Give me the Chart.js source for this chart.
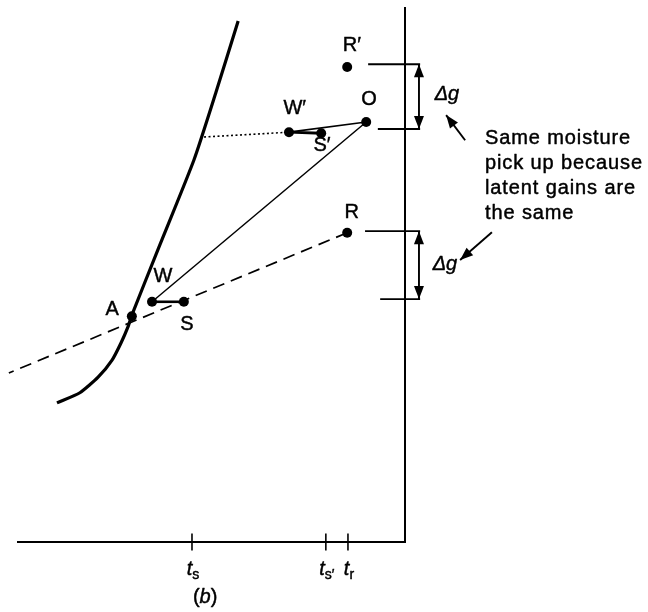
<!DOCTYPE html>
<html><head><meta charset="utf-8">
<script src="https://cdn.jsdelivr.net/npm/chart.js@4.4.1/dist/chart.umd.min.js"></script>
<style>html,body{margin:0;padding:0;background:#fff}canvas{display:block}</style>
</head><body>
<canvas id="c" width="648" height="612"></canvas>
<script>
// ---- data (diagram units: x 0..100 along temperature axis, y 0..100 moisture) ----
const axisX = [0, 100, 100];
const axisY = [0, 0, 100];
const tickValues = [45.1, 79.6, 85.3];
const tickMain = ['t', 't', 't'];
const tickSub = ['s', 's\u2032', 'r'];
const tickHalf = 1.6;
const tickLabelY = -6.2;
const satX = [10.3, 16.2, 20.9, 24.5, 26.8, 28.6, 29.6, 36.3, 45.6, 51.3, 57.0];
const satY = [26.0, 27.9, 30.8, 34.0, 37.2, 40.2, 42.4, 54.6, 71.4, 84.1, 97.4];
const pointNames = ['R\u2032', 'O', 'W\u2032', 'S\u2032', 'R', 'W', 'S', 'A'];
const pointX = [85.1, 90.0, 70.1, 78.4, 85.1, 34.8, 43.0, 29.6];
const pointY = [88.8, 78.5, 76.6, 76.4, 57.8, 44.9, 44.9, 42.2];
const labelX = [86.3, 90.7, 71.6, 78.6, 86.3, 37.6, 43.8, 24.5];
const labelY = [92.9, 82.8, 81.1, 74.2, 61.5, 49.7, 40.6, 43.4];
const dashedX = [85.1, -2.1];
const dashedY = [57.8, 31.6];
const dottedX = [48.2, 70.1];
const dottedY = [75.7, 76.6];
const levelX0 = [90.5, 93.0, 89.7, 93.6];
const levelX1 = [103.9, 103.9, 103.9, 103.9];
const levelY = [89.3, 77.2, 58.1, 45.4];
const dgArrowX = [103.6, 103.6];
const dgArrowY0 = [89.3, 58.1];
const dgArrowY1 = [77.2, 45.4];
const pointerTailX = [115.5, 122.4];
const pointerTailY = [75.1, 57.9];
const pointerTipX = [110.6, 114.2];
const pointerTipY = [79.8, 52.7];
const dgLabelX = [110.8, 110.3];
const dgLabelY = [83.6, 51.8];
const noteLines = ['Same moisture', 'pick up because', 'latent gains are', 'the same'];
const noteX = 120.6;
const noteY = [74.4, 69.7, 65.0, 60.4];
const captionX = 48.5;
const captionY = -10.3;

// ---- build datasets ----
const K = '#000';
function line(xs, ys, extra) {
  return Object.assign({
    data: xs.map((x, i) => ({x, y: ys[i]})),
    showLine: true, pointRadius: 0, pointHoverRadius: 0,
    borderColor: K, borderWidth: 1.5, fill: false, clip: false, tension: 0
  }, extra || {});
}
const datasets = [];
datasets.push(line(axisX, axisY, {borderWidth: 2}));
tickValues.forEach(v => datasets.push(line([v, v], [-tickHalf, tickHalf], {borderWidth: 1.6})));
datasets.push(line(satX, satY, {borderWidth: 3.2, tension: 0.2}));
datasets.push(line(dashedX, dashedY, {borderDash: [12, 7], borderWidth: 1.7}));
datasets.push(line(dottedX, dottedY, {borderDash: [2, 2.5], borderWidth: 1.6}));
// process lines
datasets.push(line([pointX[5], pointX[1]], [pointY[5], pointY[1]], {borderWidth: 1.5}));
datasets.push(line([pointX[5], pointX[6]], [pointY[5], pointY[6]], {borderWidth: 2.6}));
datasets.push(line([pointX[2], pointX[1]], [pointY[2], pointY[1]], {borderWidth: 1.7}));
datasets.push(line([pointX[2], pointX[3]], [pointY[2], pointY[3]], {borderWidth: 2.8}));
// level lines
levelY.forEach((y, i) => datasets.push(line([levelX0[i], levelX1[i]], [y, y], {borderWidth: 1.9})));
// double arrows
dgArrowX.forEach((x, i) => datasets.push(line([x, x], [dgArrowY0[i], dgArrowY1[i]], {borderWidth: 1.9, arrowStart: true, arrowEnd: true})));
// pointer arrows
pointerTailX.forEach((x, i) => datasets.push(line([x, pointerTipX[i]], [pointerTailY[i], pointerTipY[i]], {borderWidth: 1.9, arrowEnd: true})));
// state points
datasets.push({
  data: pointX.map((x, i) => ({x, y: pointY[i]})),
  showLine: false, pointRadius: 5, pointHoverRadius: 5,
  pointBackgroundColor: K, pointBorderColor: K, pointBorderWidth: 0, clip: false
});

const arrowPlugin = {
  id: 'arrows',
  afterDatasetsDraw(chart) {
    const ctx = chart.ctx;
    chart.data.datasets.forEach((ds, i) => {
      if (!ds.arrowStart && !ds.arrowEnd) return;
      const pts = chart.getDatasetMeta(i).data;
      const head = (from, tip) => {
        const a = Math.atan2(tip.y - from.y, tip.x - from.x);
        const L = 13, W = 5;
        ctx.beginPath();
        ctx.moveTo(tip.x, tip.y);
        ctx.lineTo(tip.x - L * Math.cos(a) + W * Math.sin(a), tip.y - L * Math.sin(a) - W * Math.cos(a));
        ctx.lineTo(tip.x - L * Math.cos(a) - W * Math.sin(a), tip.y - L * Math.sin(a) + W * Math.cos(a));
        ctx.closePath();
        ctx.fillStyle = K; ctx.fill();
      };
      ctx.save();
      if (ds.arrowEnd) head(pts[0], pts[pts.length - 1]);
      if (ds.arrowStart) head(pts[pts.length - 1], pts[0]);
      ctx.restore();
    });
  }
};

const FONT = '"Liberation Sans", Arial, Helvetica, sans-serif';
const textPlugin = {
  id: 'texts',
  afterDraw(chart) {
    const ctx = chart.ctx, xs = chart.scales.x, ys = chart.scales.y;
    const px = v => xs.getPixelForValue(v), py = v => ys.getPixelForValue(v);
    ctx.save();
    ctx.fillStyle = K; ctx.strokeStyle = K; ctx.lineWidth = 0.45; ctx.lineJoin = 'round';
    const put = (t, x, y) => { ctx.fillText(t, x, y); ctx.strokeText(t, x, y); };
    // point labels
    ctx.font = '20px ' + FONT;
    ctx.textAlign = 'center'; ctx.textBaseline = 'middle';
    pointNames.forEach((t, i) => put(t, px(labelX[i]), py(labelY[i])));
    // delta g labels
    ctx.font = 'italic 20px ' + FONT;
    dgLabelX.forEach((x, i) => put('\u0394g', px(x), py(dgLabelY[i])));
    // note text
    ctx.font = '20px ' + FONT;
    ctx.textAlign = 'left'; ctx.textBaseline = 'alphabetic';
    try { ctx.letterSpacing = '0.9px'; } catch (e) {}
    noteLines.forEach((t, i) => put(t, px(noteX), py(noteY[i])));
    try { ctx.letterSpacing = '0px'; } catch (e) {}
    // tick labels with subscripts
    tickValues.forEach((v, i) => {
      ctx.font = 'italic 20px ' + FONT;
      const w1 = ctx.measureText(tickMain[i]).width;
      ctx.font = '14px ' + FONT;
      const w2 = ctx.measureText(tickSub[i]).width;
      const x0 = px(v) - (w1 + w2) / 2 + 1;
      const yb = py(tickLabelY);
      ctx.font = 'italic 20px ' + FONT;
      put(tickMain[i], x0, yb);
      ctx.font = '14px ' + FONT;
      put(tickSub[i], x0 + w1, yb + 4);
    });
    // caption (b)
    const cx = px(captionX), cy = py(captionY);
    ctx.textBaseline = 'middle';
    ctx.font = '20px ' + FONT;
    const wp = ctx.measureText('(').width;
    ctx.font = 'italic 20px ' + FONT;
    const wb = ctx.measureText('b').width;
    let x = cx - (wp * 2 + wb) / 2;
    ctx.font = '20px ' + FONT; put('(', x, cy); x += wp;
    ctx.font = 'italic 20px ' + FONT; put('b', x, cy); x += wb;
    ctx.font = '20px ' + FONT; put(')', x, cy);
    ctx.restore();
  }
};

new Chart(document.getElementById('c'), {
  type: 'scatter',
  data: {datasets},
  options: {
    responsive: false, animation: false, devicePixelRatio: 1,
    layout: {padding: {left: 17, right: 243, top: 7, bottom: 70}},
    scales: {
      x: {type: 'linear', min: 0, max: 100, display: false},
      y: {type: 'linear', min: 0, max: 100, display: false}
    },
    plugins: {legend: {display: false}, tooltip: {enabled: false}},
    events: []
  },
  plugins: [arrowPlugin, textPlugin]
});
</script>
</body></html>
